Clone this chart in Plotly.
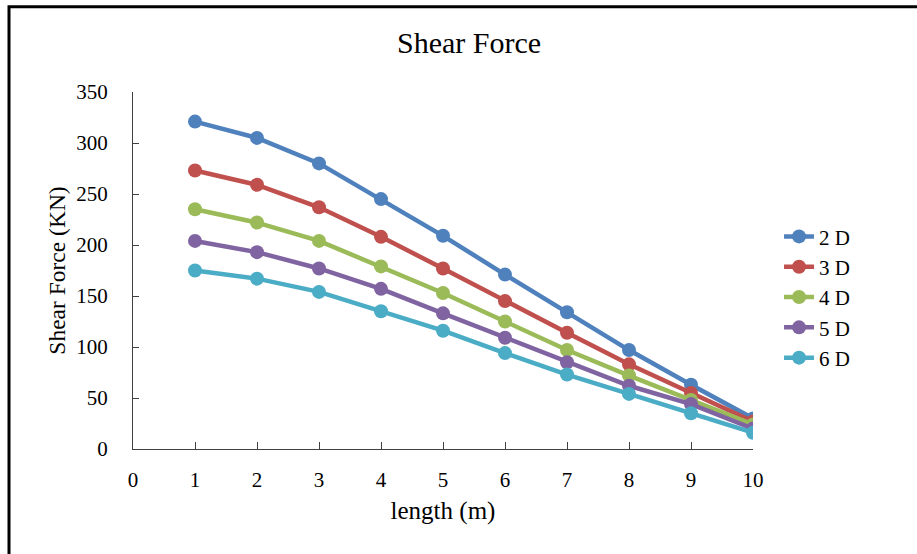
import plotly.graph_objects as go

# Shear force along the member for each depth case
length_m = [1, 2, 3, 4, 5, 6, 7, 8, 9, 10]
shear_2d = [321, 305, 280, 245, 209, 171, 134, 97, 63, 30]
shear_3d = [273, 259, 237, 208, 177, 145, 114, 83, 55, 27]
shear_4d = [235, 222, 204, 179, 153, 125, 97, 72, 48, 24]
shear_5d = [204, 193, 177, 157, 133, 109, 85, 62, 44, 20]
shear_6d = [175, 167, 154, 135, 116, 94, 73, 54, 35, 16]

series_names = ["2 D", "3 D", "4 D", "5 D", "6 D"]
series_values = [shear_2d, shear_3d, shear_4d, shear_5d, shear_6d]
series_colors = ["#4F81BD", "#C0504D", "#9BBB59", "#8064A2", "#4BACC6"]

x_ticks = list(range(0, 11))
y_ticks = list(range(0, 351, 50))

FONT = "Times New Roman, Liberation Serif, serif"

fig = go.Figure()
for name, vals, col in zip(series_names, series_values, series_colors):
    fig.add_trace(go.Scatter(
        x=length_m, y=vals, name=name, mode="lines+markers",
        line=dict(color=col, width=4.5),
        marker=dict(color=col, size=14),
    ))

fig.update_layout(
    width=917, height=554,
    margin=dict(l=133, r=164, t=92, b=105),
    paper_bgcolor="white", plot_bgcolor="white",
    font=dict(family=FONT, color="black", size=21),
    title=dict(text="Shear Force", x=0.5115, xanchor="center",
               y=1 - 42 / 554, yanchor="middle",
               font=dict(family=FONT, size=30, color="black")),
    showlegend=True,
    legend=dict(x=1.042, xanchor="left", y=0.425, yanchor="middle",
                font=dict(family=FONT, size=21, color="black"),
                bgcolor="rgba(0,0,0,0)", tracegroupgap=0),
    shapes=[
        # chart frame (top and left edges visible)
        dict(type="rect", xref="paper", yref="paper",
             x0=-0.2, x1=1.6, y0=-0.6, y1=1.2385,
             line=dict(color="black", width=3), fillcolor="rgba(0,0,0,0)",
             layer="below"),
    ],
)

fig.update_xaxes(
    range=[0, 10], tickvals=x_ticks, ticktext=[str(t) for t in x_ticks],
    showgrid=False, zeroline=False, showline=True,
    linecolor="#404040", linewidth=1,
    ticks="inside", ticklen=7, tickcolor="#404040",
    ticklabelstandoff=12,
    tickfont=dict(family=FONT, size=21, color="black"),
    title=dict(text="length (m)", standoff=10,
               font=dict(family=FONT, size=25, color="black")),
)
fig.update_yaxes(
    range=[0, 350], tickvals=y_ticks, ticktext=[str(t) for t in y_ticks],
    showgrid=False, zeroline=False, showline=True,
    linecolor="#404040", linewidth=1,
    ticks="inside", ticklen=6, tickcolor="#404040",
    ticklabelstandoff=20,
    tickfont=dict(family=FONT, size=21, color="black"),
    title=dict(text="Shear Force (KN)", standoff=4,
               font=dict(family=FONT, size=23.5, color="black")),
)

fig.write_html("out.html")
